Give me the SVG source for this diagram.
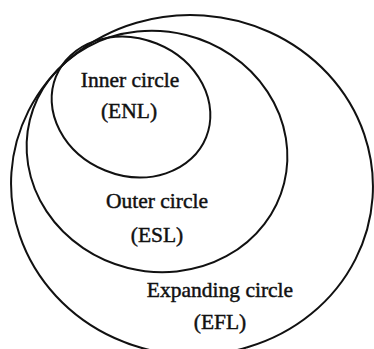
<svg xmlns="http://www.w3.org/2000/svg" width="374" height="349" viewBox="0 0 374 349">
  <style>
    .ring { fill: none; stroke: #111; stroke-width: 2; }
    .lbl { font-family: "Liberation Serif", "Times New Roman", serif; font-size: 21.5px; fill: #111; stroke: #111; stroke-width: 0.45; text-anchor: middle; }
  </style>
  <rect width="374" height="349" fill="#fff"/>
  <g id="expanding">
    <ellipse class="ring" cx="192" cy="185" rx="181" ry="170" transform="rotate(4 192 185)"/>
    <text class="lbl" x="220" y="297">Expanding circle</text>
    <text class="lbl" x="220" y="329">(EFL)</text>
  </g>
  <g id="outer">
    <ellipse class="ring" cx="157" cy="151.5" rx="131" ry="120" transform="rotate(14 157 151.5)"/>
    <text class="lbl" x="157" y="208">Outer circle</text>
    <text class="lbl" x="157" y="242">(ESL)</text>
  </g>
  <g id="inner">
    <ellipse class="ring" cx="131" cy="107" rx="81" ry="68.5" transform="rotate(22 131 107)"/>
    <text class="lbl" x="130" y="87">Inner circle</text>
    <text class="lbl" x="129" y="118">(ENL)</text>
  </g>
  <g id="connectors"></g>
</svg>
